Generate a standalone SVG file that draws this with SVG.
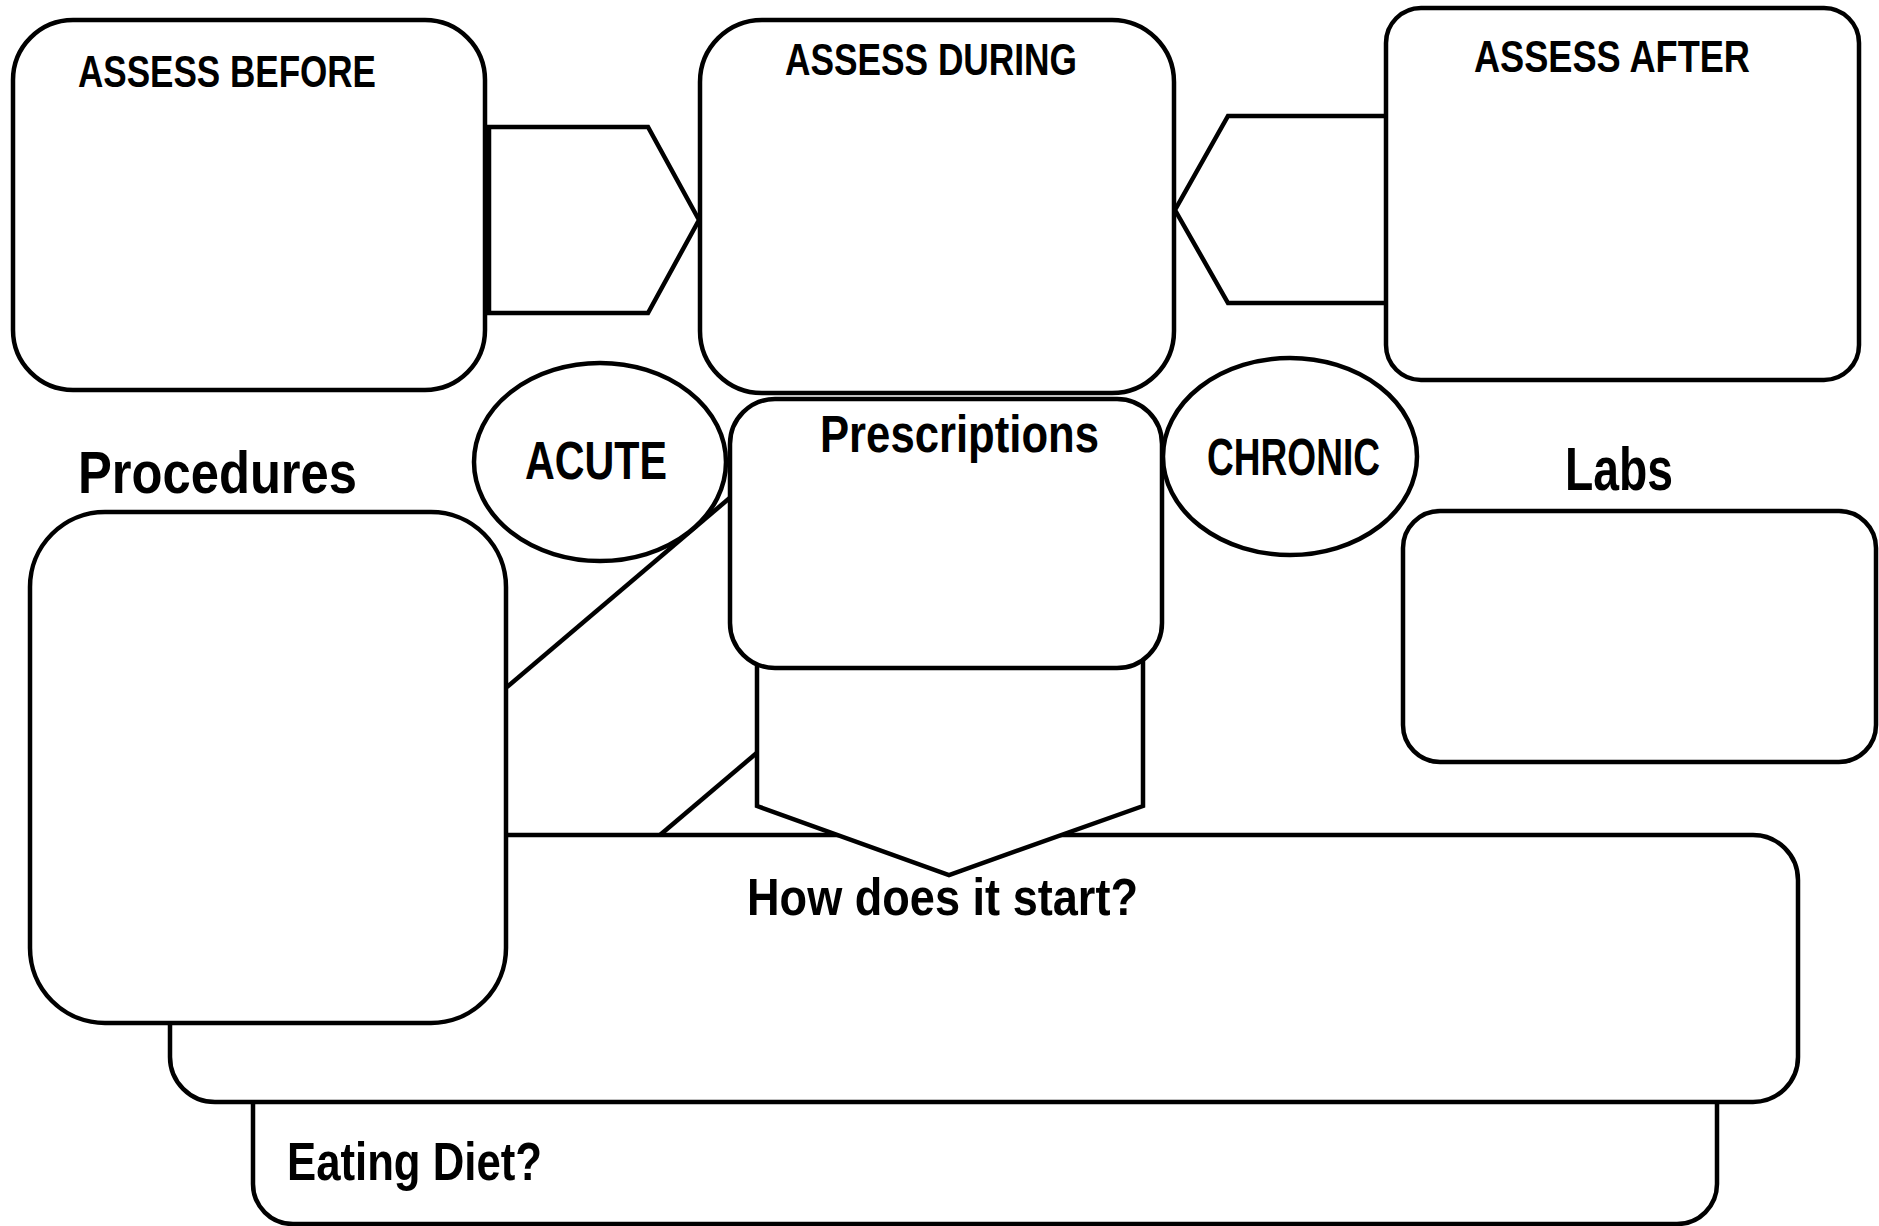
<svg xmlns="http://www.w3.org/2000/svg" width="1879" height="1226" viewBox="0 0 1879 1226">
<style>
.box{fill:#fff;stroke:#000;stroke-width:4.5}
.ln{fill:none;stroke:#000;stroke-width:4.5}
.t{font-family:'Liberation Sans',sans-serif;font-weight:bold;fill:#000}
</style>
<rect x="0" y="0" width="1879" height="1226" fill="#fff"/>
<g id="eating-diet">
<rect class="box" x="253" y="1040" width="1464" height="184" rx="40"/>
<text class="t" x="287" y="1180" font-size="54" textLength="255" lengthAdjust="spacingAndGlyphs">Eating Diet?</text>
</g>
<g id="how-start">
<rect class="box" x="170" y="835" width="1628" height="267" rx="45"/>
<text class="t" x="747" y="915" font-size="52" textLength="391" lengthAdjust="spacingAndGlyphs">How does it start?</text>
</g>
<g id="procedures">
<rect class="box" x="30" y="512" width="476" height="511" rx="75"/>
<text class="t" x="78" y="493" font-size="59" textLength="279" lengthAdjust="spacingAndGlyphs">Procedures</text>
</g>
<g id="labs">
<rect class="box" x="1403" y="511" width="473" height="251" rx="37"/>
<text class="t" x="1565" y="490" font-size="62" textLength="108" lengthAdjust="spacingAndGlyphs">Labs</text>
</g>
<g id="connectors">
<line class="ln" x1="507" y1="687" x2="732" y2="496"/>
<line class="ln" x1="660" y1="835" x2="759" y2="751"/>
<polygon class="box" points="757,640 1143,640 1143,806 949,875 757,806"/>
<polygon class="box" points="489,127 648,127 699,220 648,313 489,313"/>
<polygon class="box" points="1389,116 1228,116 1175,210 1228,303 1389,303"/>
</g>
<g id="prescriptions">
<rect class="box" x="730" y="399" width="432" height="269" rx="45"/>
<text class="t" x="820" y="452" font-size="51" textLength="279" lengthAdjust="spacingAndGlyphs">Prescriptions</text>
</g>
<g id="acute">
<ellipse class="box" cx="600" cy="462" rx="126" ry="99"/>
<text class="t" x="525" y="479" font-size="54" textLength="142" lengthAdjust="spacingAndGlyphs">ACUTE</text>
</g>
<g id="chronic">
<ellipse class="box" cx="1290" cy="456.5" rx="127" ry="98.5"/>
<text class="t" x="1207" y="475" font-size="51" textLength="173" lengthAdjust="spacingAndGlyphs">CHRONIC</text>
</g>
<g id="assess-before">
<rect class="box" x="13" y="20" width="472" height="370" rx="60"/>
<text class="t" x="78" y="87" font-size="44" textLength="298" lengthAdjust="spacingAndGlyphs">ASSESS BEFORE</text>
</g>
<g id="assess-during">
<rect class="box" x="700" y="20" width="474" height="373" rx="62"/>
<text class="t" x="785" y="75" font-size="44" textLength="292" lengthAdjust="spacingAndGlyphs">ASSESS DURING</text>
</g>
<g id="assess-after">
<rect class="box" x="1386" y="8" width="473" height="372" rx="35"/>
<text class="t" x="1474" y="72" font-size="44" textLength="276" lengthAdjust="spacingAndGlyphs">ASSESS AFTER</text>
</g>
</svg>
